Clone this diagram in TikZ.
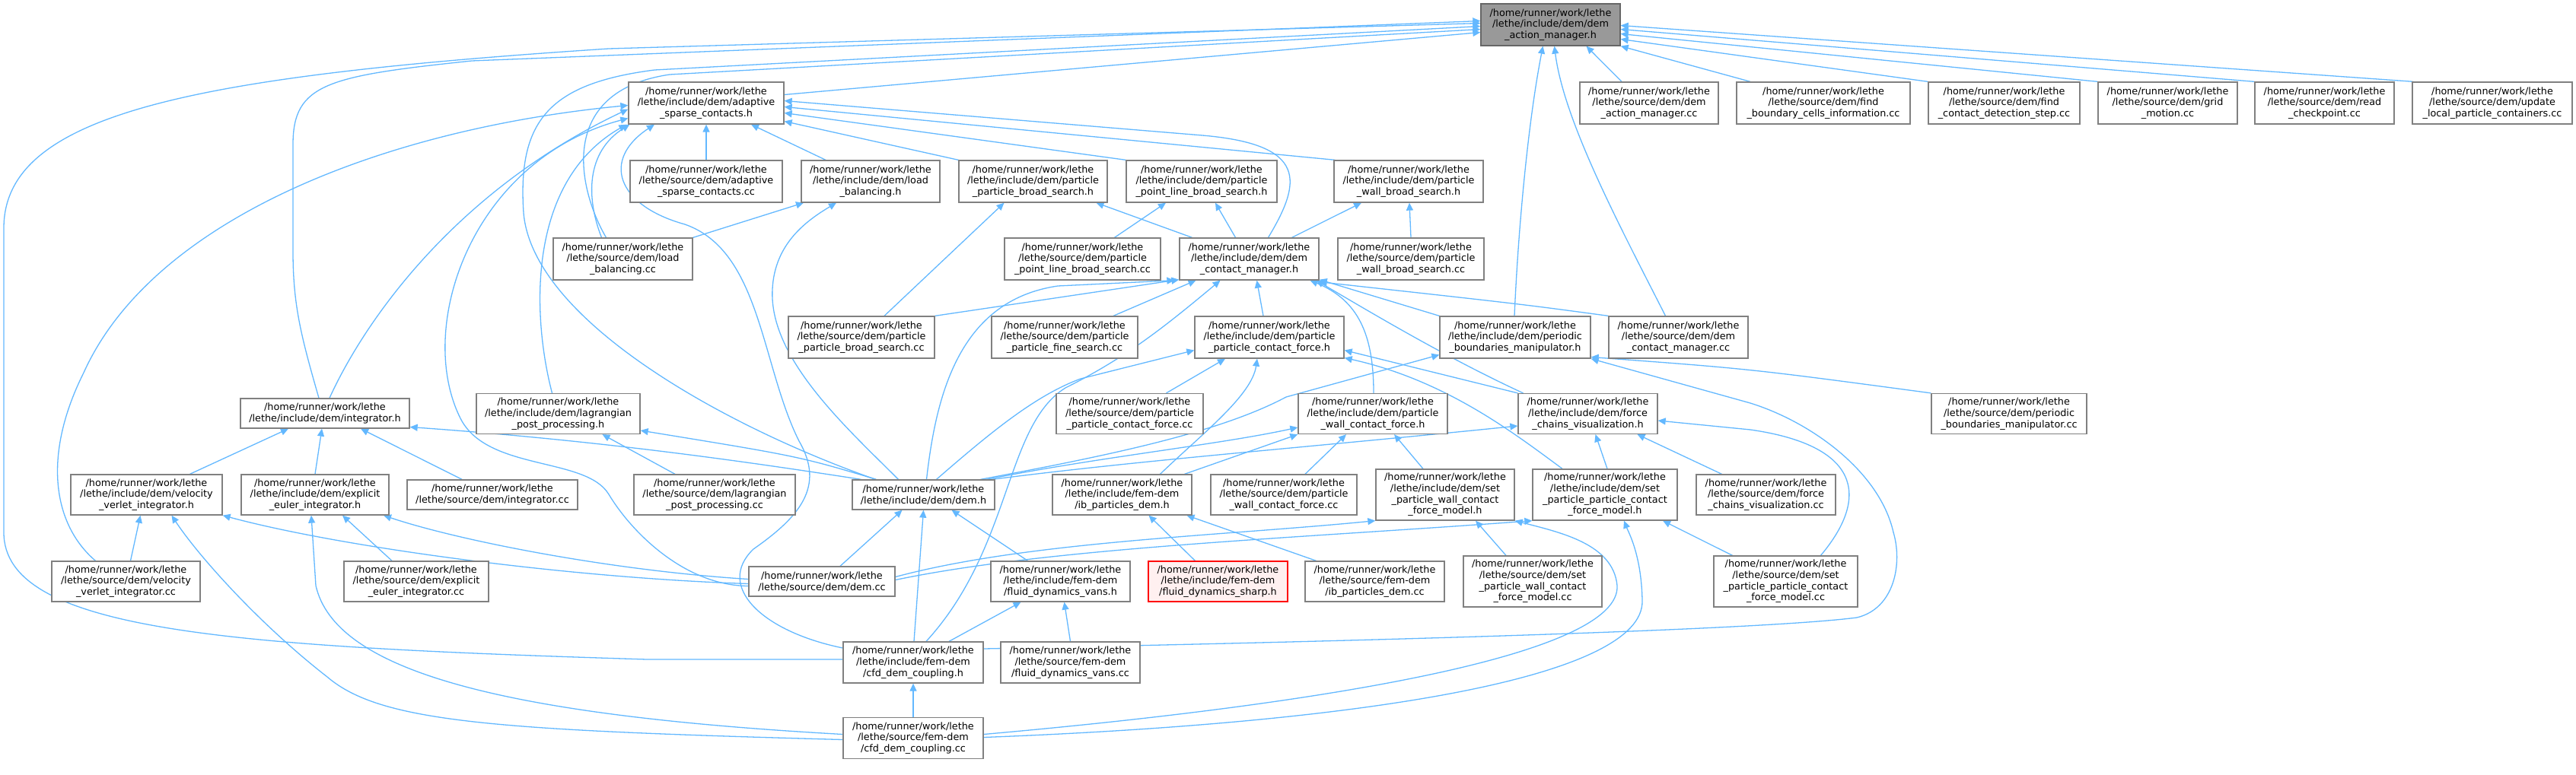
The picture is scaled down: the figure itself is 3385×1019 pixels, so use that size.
\documentclass[tikz,border=0pt]{standalone}
\usepackage{fontspec}
\setmainfont{DejaVu Sans}
\usetikzlibrary{arrows.meta}
\definecolor{edgeblue}{HTML}{63B8FF}
\definecolor{boxline}{HTML}{808080}
\definecolor{rootfill}{HTML}{999999}
\definecolor{rootline}{HTML}{666666}
\definecolor{redfill}{HTML}{FFF0F0}
\newcommand{\hrw}{/home/runner/work/lethe}
\newcommand{\nb}[7][]{\node[box,#1,minimum width=#5,minimum height=#6] (#2) at (#3,#4) {#7};}
\pgfdeclarelayer{bg}
\pgfsetlayers{bg,main}
\tikzset{
 box/.style={draw=boxline, line width=1.3pt, fill=white, inner sep=0pt, align=center, font=\fontsize{12.8}{14.7}\selectfont},
 rootbox/.style={fill=rootfill, draw=rootline},
 redbox/.style={fill=redfill, draw=red},
 dep/.style={draw=edgeblue, line width=1.3pt, -{Triangle[length=10pt,width=9pt]}},
}
\begin{document}
\begin{tikzpicture}[x=1pt,y=-1pt]
\useasboundingbox (0,0) rectangle (3385,1019);
% row 0
\nb[rootbox]{DAM}{2037.5}{32.5}{183}{55}{\hrw\\/lethe/include/dem/dem\\\_action\_manager.h}
% row 1
\nb{ASC}{928}{135.5}{204}{55}{\hrw\\/lethe/include/dem/adaptive\\\_sparse\_contacts.h}
\nb{DAMcc}{2167}{135.5}{182}{55}{\hrw\\/lethe/source/dem/dem\\\_action\_manager.cc}
\nb{FBCI}{2396}{135.5}{228}{55}{\hrw\\/lethe/source/dem/find\\\_boundary\_cells\_information.cc}
\nb{FCDS}{2633.5}{135.5}{199}{55}{\hrw\\/lethe/source/dem/find\\\_contact\_detection\_step.cc}
\nb{GM}{2848.5}{135.5}{183}{55}{\hrw\\/lethe/source/dem/grid\\\_motion.cc}
\nb{RC}{3054.5}{135.5}{183}{55}{\hrw\\/lethe/source/dem/read\\\_checkpoint.cc}
\nb{ULPC}{3275}{135.5}{210}{55}{\hrw\\/lethe/source/dem/update\\\_local\_particle\_containers.cc}
% row 2
\nb{ASCcc}{928}{238.5}{200}{55}{\hrw\\/lethe/source/dem/adaptive\\\_sparse\_contacts.cc}
\nb{LBh}{1144}{238.5}{182}{55}{\hrw\\/lethe/include/dem/load\\\_balancing.h}
\nb{PPBSh}{1357.5}{238.5}{195}{55}{\hrw\\/lethe/include/dem/particle\\\_particle\_broad\_search.h}
\nb{PPLBSh}{1579}{238.5}{198}{55}{\hrw\\/lethe/include/dem/particle\\\_point\_line\_broad\_search.h}
\nb{PWBSh}{1851}{238.5}{196}{55}{\hrw\\/lethe/include/dem/particle\\\_wall\_broad\_search.h}
% row 3
\nb{LBcc}{818.5}{340.5}{183}{55}{\hrw\\/lethe/source/dem/load\\\_balancing.cc}
\nb{PPLBScc}{1422.5}{340.5}{205}{55}{\hrw\\/lethe/source/dem/particle\\\_point\_line\_broad\_search.cc}
\nb{DCMh}{1641.5}{340.5}{183}{55}{\hrw\\/lethe/include/dem/dem\\\_contact\_manager.h}
\nb{PWBScc}{1854}{340.5}{192}{55}{\hrw\\/lethe/source/dem/particle\\\_wall\_broad\_search.cc}
% row 4
\nb{PPBScc}{1132}{443.5}{192}{55}{\hrw\\/lethe/source/dem/particle\\\_particle\_broad\_search.cc}
\nb{PPFScc}{1399}{443.5}{192}{55}{\hrw\\/lethe/source/dem/particle\\\_particle\_fine\_search.cc}
\nb{PPCFh}{1668}{443.5}{196}{55}{\hrw\\/lethe/include/dem/particle\\\_particle\_contact\_force.h}
\nb{PBMh}{1991}{443.5}{198}{55}{\hrw\\/lethe/include/dem/periodic\\\_boundaries\_manipulator.h}
\nb{DCMcc}{2205.5}{443.5}{183}{55}{\hrw\\/lethe/source/dem/dem\\\_contact\_manager.cc}
% row 5
\nb{INTh}{427}{543.5}{222}{39}{\hrw\\/lethe/include/dem/integrator.h}
\nb{LPPh}{733.5}{544}{215}{53}{\hrw\\/lethe/include/dem/lagrangian\\\_post\_processing.h}
\nb{PPCFcc}{1484.5}{544}{193}{53}{\hrw\\/lethe/source/dem/particle\\\_particle\_contact\_force.cc}
\nb{PWCFh}{1804}{544}{196}{53}{\hrw\\/lethe/include/dem/particle\\\_wall\_contact\_force.h}
\nb{FCVh}{2086.5}{544}{183}{53}{\hrw\\/lethe/include/dem/force\\\_chains\_visualization.h}
\nb{PBMcc}{2640}{544}{204}{53}{\hrw\\/lethe/source/dem/periodic\\\_boundaries\_manipulator.cc}
% row 6
\nb{VVIh}{192.5}{650.5}{199}{53}{\hrw\\/lethe/include/dem/velocity\\\_verlet\_integrator.h}
\nb{EEIh}{414}{650.5}{194}{53}{\hrw\\/lethe/include/dem/explicit\\\_euler\_integrator.h}
\nb{INTcc}{647}{650.5}{224}{39}{\hrw\\/lethe/source/dem/integrator.cc}
\nb{LPPcc}{939}{650.5}{212}{53}{\hrw\\/lethe/source/dem/lagrangian\\\_post\_processing.cc}
\nb{DEMh}{1213.5}{650.5}{187}{39}{\hrw\\/lethe/include/dem/dem.h}
\nb{IBPDh}{1474.5}{650.5}{183}{53}{\hrw\\/lethe/include/fem-dem\\/ib\_particles\_dem.h}
\nb{PWCFcc}{1687}{650.5}{192}{53}{\hrw\\/lethe/source/dem/particle\\\_wall\_contact\_force.cc}
\nb{SPWCFMh}{1899}{650.5}{182}{67}{\hrw\\/lethe/include/dem/set\\\_particle\_wall\_contact\\\_force\_model.h}
\nb{SPPCFMh}{2109}{650.5}{190}{67}{\hrw\\/lethe/include/dem/set\\\_particle\_particle\_contact\\\_force\_model.h}
\nb{FCVcc}{2320.5}{650.5}{183}{53}{\hrw\\/lethe/source/dem/force\\\_chains\_visualization.cc}
% row 7
\nb{VVIcc}{165.5}{764.5}{195}{53}{\hrw\\/lethe/source/dem/velocity\\\_verlet\_integrator.cc}
\nb{EEIcc}{547}{764.5}{190}{53}{\hrw\\/lethe/source/dem/explicit\\\_euler\_integrator.cc}
\nb{DEMcc}{1080}{764.5}{192}{39}{\hrw\\/lethe/source/dem/dem.cc}
\nb{FDVh}{1393.5}{764.5}{183}{53}{\hrw\\/lethe/include/fem-dem\\/fluid\_dynamics\_vans.h}
\nb[redbox]{FDSh}{1600.5}{764.5}{183}{53}{\hrw\\/lethe/include/fem-dem\\/fluid\_dynamics\_sharp.h}
\nb{IBPDcc}{1806.5}{764.5}{183}{53}{\hrw\\/lethe/source/fem-dem\\/ib\_particles\_dem.cc}
\nb{SPWCFMcc}{2014}{764.5}{182}{67}{\hrw\\/lethe/source/dem/set\\\_particle\_wall\_contact\\\_force\_model.cc}
\nb{SPPCFMcc}{2346.5}{764.5}{189}{67}{\hrw\\/lethe/source/dem/set\\\_particle\_particle\_contact\\\_force\_model.cc}
% row 8, 9
\nb{CDCh}{1200}{871}{184}{54}{\hrw\\/lethe/include/fem-dem\\/cfd\_dem\_coupling.h}
\nb{FDVcc}{1406.5}{871}{183}{54}{\hrw\\/lethe/source/fem-dem\\/fluid\_dynamics\_vans.cc}
\nb{CDCcc}{1200}{970.5}{184}{54}{\hrw\\/lethe/source/fem-dem\\/cfd\_dem\_coupling.cc}

\begin{pgfonlayer}{bg}
% ---- into DAM
\draw[dep] ([yshift=11]ASC.east) -- ([yshift=-10]DAM.west);
\draw[dep] ([xshift=-36]DAMcc.north) -- ([xshift=47]DAM.south);
\draw[dep] ([xshift=-96]FBCI.north) -- (DAM.south east);
\draw[dep] (FCDS.north west) -- ([yshift=-19]DAM.east);
\draw[dep] (GM.north west) -- ([yshift=-12]DAM.east);
\draw[dep] (RC.north west) -- ([yshift=-6]DAM.east);
\draw[dep] ([xshift=2]ULPC.north west) -- ([yshift=-1]DAM.east);
\draw[dep] ([xshift=-1]PBMh.north) .. controls (1995,300) and (2008,160) .. ([xshift=-10]DAM.south);
\draw[dep] ([xshift=-17]DCMcc.north) .. controls (2130,300) and (2055,160) .. ([xshift=5]DAM.south);
\draw[dep] ([xshift=-8]INTh.north) .. controls (395,440) and (385,400) .. (385,330) -- (385,190) .. controls (385,110) and (430,100) .. (620,80) -- ([yshift=5]DAM.west);
\draw[dep] ([yshift=4]CDCh.west) -- (850,867) .. controls (300,850) and (5,830) .. (5,700) -- (5,300) .. controls (5,150) and (250,100) .. (800,64) -- ([yshift=2]DAM.west);
\draw[dep] ([xshift=-63]DEMh.north) .. controls (950,560) and (700,420) .. (688,280) .. controls (680,160) and (720,110) .. (860,92) -- ([yshift=-2]DAM.west);
\draw[dep] ([xshift=-22]LBcc.north) .. controls (760,250) and (730,120) .. (880,98) -- ([yshift=-6]DAM.west);
% ---- into ASC
\draw[dep] (ASCcc) -- (ASC);
\draw[dep] (LBh) -- (ASC);
\draw[dep] (PPBSh.north west) -- ([yshift=-24]ASC.east);
\draw[dep] (PPLBSh.north west) -- ([yshift=-13]ASC.east);
\draw[dep] ([xshift=2]PWBSh.north west) -- ([yshift=-5]ASC.east);
\draw[dep] ([xshift=25]DCMh.north) .. controls (1710,240) and (1720,190) .. (1580,178) -- ([yshift=3]ASC.east);
\draw[dep] ([xshift=-28]LBcc.north) .. controls (770,260) and (770,200) .. ([xshift=2]ASC.south west);
\draw[dep] ([xshift=-8]LPPh.north) .. controls (700,420) and (690,240) .. ([xshift=-2]ASC.south west);
\draw[dep] ([xshift=6]INTh.north) .. controls (480,420) and (600,250) .. ([yshift=-8]ASC.west);
\draw[dep] ([xshift=-40]VVIcc.north) .. controls (70,690) and (55,600) .. (110,490) .. controls (200,290) and (500,170) .. ([yshift=-3]ASC.west);
\draw[dep] ([yshift=-6]DEMcc.west) .. controls (900,770) and (830,700) .. (800,650) .. controls (770,600) and (640,620) .. (605,550) .. controls (545,430) and (620,210) .. ([yshift=-20]ASC.west);
\draw[dep] ([yshift=19]CDCh.west) .. controls (1000,830) and (940,770) .. (990,722) .. controls (1050,680) and (1085,640) .. (1050,580) .. controls (1000,480) and (1000,330) .. (900,295) .. controls (810,270) and (790,210) .. ([xshift=-68]ASC.south);
% ---- into LBh, PPBSh, PPLBSh, PWBSh
\draw[dep] (LBcc.north east) -- ([xshift=-88]LBh.south);
\draw[dep] ([xshift=-33]DEMh.north) .. controls (1110,560) and (1010,470) .. (1015,380) .. controls (1018,320) and (1060,290) .. ([xshift=-45]LBh.south);
\draw[dep] ([xshift=30]PPBScc.north) -- ([xshift=-38]PPBSh.south);
\draw[dep] ([xshift=-75]DCMh.north) -- ([xshift=83]PPBSh.south);
\draw[dep] ([xshift=42]PPLBScc.north) -- ([xshift=-47]PPLBSh.south);
\draw[dep] ([xshift=-18]DCMh.north) -- ([xshift=18]PPLBSh.south);
\draw[dep] ([xshift=56]DCMh.north) -- ([xshift=-62]PWBSh.south);
\draw[dep] (PWBScc.north) -- ([xshift=1]PWBSh.south);
% ---- into DCMh
\draw[dep] (PPBScc.north east) -- ([yshift=1]DCMh.south west);
\draw[dep] ([xshift=64]PPFScc.north) -- ([xshift=-70]DCMh.south);
\draw[dep] ([xshift=-8]PPCFh.north) -- ([xshift=10]DCMh.south);
\draw[dep] ([xshift=4]DEMh.north) .. controls (1230,520) and (1260,395) .. (1390,376) -- ([xshift=-6]DCMh.south west);
\draw[dep] ([xshift=17]CDCh.north) .. controls (1330,720) and (1320,560) .. (1400,510) .. controls (1480,470) and (1530,430) .. ([xshift=-38]DCMh.south);
\draw[dep] (PBMh.north west) -- ([yshift=1]DCMh.south east);
\draw[dep] (DCMcc.north west) .. controls (2000,400) .. ([yshift=-2]DCMh.south east);
\draw[dep] ([xshift=1]PWCFh.north) .. controls (1805,440) and (1785,395) .. ([xshift=80]DCMh.south);
\draw[dep] ([xshift=-85]FCVh.north) .. controls (1900,470) and (1800,410) .. ([xshift=88]DCMh.south);
% ---- into PPCFh
\draw[dep] ([xshift=48]PPCFcc.north) -- ([xshift=-58]PPCFh.south);
\draw[dep] ([xshift=50]IBPDh.north) .. controls (1580,570) and (1645,520) .. ([xshift=-16]PPCFh.south);
\draw[dep] ([xshift=17]DEMh.north) .. controls (1300,570) and (1360,520) .. (1420,498) -- ([yshift=-17]PPCFh.west);
\draw[dep] (FCVh.north west) -- ([yshift=-17]PPCFh.east);
\draw[dep] ([xshift=-56]SPPCFMh.north) .. controls (1990,570) and (1900,500) .. ([yshift=-27]PPCFh.east);
% ---- into PBMh
\draw[dep] ([xshift=75]DEMh.north) .. controls (1450,600) and (1600,570) .. (1690,522) -- ([yshift=-23]PBMh.west);
\draw[dep] (PBMcc.north west) .. controls (2300,485) .. ([yshift=-26]PBMh.east);
\draw[dep] ([yshift=18]CDCh.east) .. controls (1700,845) and (2300,830) .. (2440,812) .. controls (2490,800) and (2500,740) .. (2488,700) .. controls (2470,620) and (2380,555) .. (2300,530) -- (PBMh.south east);
% ---- into INTh
\draw[dep] ([xshift=57]VVIh.north) -- ([xshift=-48]INTh.south);
\draw[dep] (EEIh.north) -- ([xshift=-4]INTh.south);
\draw[dep] ([xshift=-40]INTcc.north) -- ([xshift=47]INTh.south);
\draw[dep] ([xshift=-82]DEMh.north) .. controls (1000,610) and (800,580) .. ([yshift=-18]INTh.east);
% ---- into LPPh
\draw[dep] ([xshift=-52]LPPcc.north) -- ([xshift=58]LPPh.south);
\draw[dep] ([xshift=-62]DEMh.north) .. controls (1050,600) .. ([yshift=-22]LPPh.east);
% ---- into PWCFh
\draw[dep] ([xshift=28]PWCFcc.north) -- ([xshift=-35]PWCFh.south);
\draw[dep] ([xshift=-29]SPWCFMh.north) -- ([xshift=28]PWCFh.south);
\draw[dep] ([xshift=82]IBPDh.north) -- (PWCFh.south west);
\draw[dep] ([xshift=83]DEMh.north) .. controls (1450,600) and (1600,585) .. ([yshift=-18]PWCFh.west);
% ---- into FCVh
\draw[dep] ([xshift=90]DEMh.north) .. controls (1500,605) and (1700,590) .. ([yshift=-16]FCVh.west);
\draw[dep] ([xshift=3]SPPCFMh.north) -- ([xshift=10]FCVh.south);
\draw[dep] ([xshift=-58]FCVcc.north) -- ([xshift=65]FCVh.south);
\draw[dep] ([xshift=46]SPPCFMcc.north) .. controls (2460,650) and (2440,585) .. (2300,565) -- ([yshift=-9]FCVh.east);
% ---- into SPWCFMh, SPPCFMh
\draw[dep] ([xshift=-35]SPWCFMcc.north) -- ([xshift=40]SPWCFMh.south);
\draw[dep] ([yshift=6]DEMcc.east) .. controls (1350,712) and (1600,705) .. (SPWCFMh.south west);
\draw[dep] ([yshift=2]DEMcc.east) .. controls (1380,720) and (1700,708) .. (SPPCFMh.south west);
\draw[dep] ([yshift=5]CDCcc.east) .. controls (1750,925) and (2130,860) .. (2125,770) .. controls (2120,715) and (2050,700) .. (SPWCFMh.south east);
\draw[dep] ([yshift=1]CDCcc.east) .. controls (1800,950) and (2160,890) .. (2158,790) .. controls (2157,730) and (2140,700) .. ([xshift=25]SPPCFMh.south);
\draw[dep] ([xshift=-70]SPPCFMcc.north) -- ([xshift=76]SPPCFMh.south);
% ---- into VVIh, EEIh
\draw[dep] ([xshift=6]VVIcc.north) -- ([xshift=-8]VVIh.south);
\draw[dep] ([yshift=-2]CDCcc.west) .. controls (650,960) and (500,950) .. (430,890) .. controls (340,820) and (260,730) .. ([xshift=33]VVIh.south);
\draw[dep] ([yshift=-3]DEMcc.west) .. controls (750,760) and (450,720) .. (VVIh.south east);
\draw[dep] ([xshift=-32]EEIcc.north) -- ([xshift=36]EEIh.south);
\draw[dep] ([yshift=3]DEMcc.west) .. controls (800,750) and (600,710) .. ([xshift=90]EEIh.south);
\draw[dep] ([yshift=5]CDCcc.west) .. controls (650,940) and (440,880) .. (415,770) -- ([xshift=-5]EEIh.south);
% ---- into DEMh
\draw[dep] ([xshift=24]DEMcc.north) -- ([xshift=-28]DEMh.south);
\draw[dep] ([xshift=-43]FDVh.north) -- ([xshift=37]DEMh.south);
\draw[dep] ([xshift=1]CDCh.north) -- (DEMh.south);
% ---- into FDVh, IBPDh, CDCh
\draw[dep] (FDVcc.north) -- ([xshift=5]FDVh.south);
\draw[dep] ([xshift=47]CDCh.north) -- ([xshift=-52]FDVh.south);
\draw[dep] ([xshift=-30]FDSh.north) -- ([xshift=35]IBPDh.south);
\draw[dep] ([xshift=-77]IBPDcc.north) -- ([xshift=85]IBPDh.south);
\draw[dep] (CDCcc) -- (CDCh);
\end{pgfonlayer}
\end{tikzpicture}
\end{document}
